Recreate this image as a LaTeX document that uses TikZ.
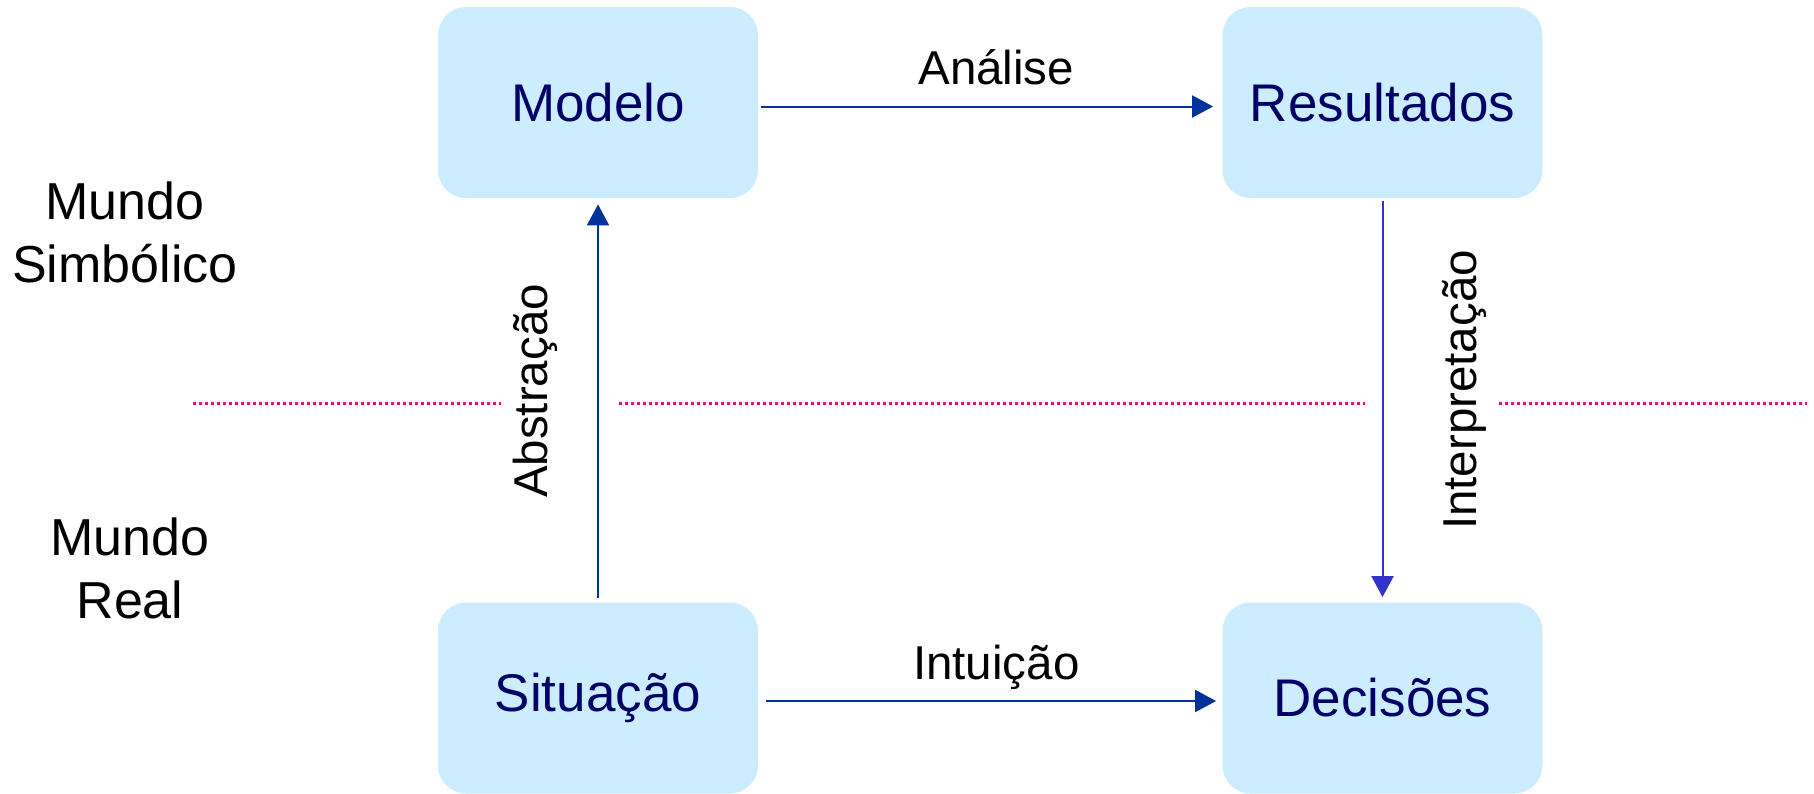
\documentclass[tikz,border=0pt]{standalone}
\usepackage{fontspec}
\setmainfont{Liberation Sans}
\usetikzlibrary{arrows.meta}

\definecolor{boxfill}{HTML}{CCECFF}
\definecolor{boxtext}{HTML}{000066}
\definecolor{arrblue}{HTML}{003399}
\definecolor{arrlight}{HTML}{3333CC}
\definecolor{sepred}{HTML}{FF0066}

\tikzset{
  stage/.style={fill=boxfill, rounded corners=14pt, minimum width=160pt, minimum height=95.5pt,
    inner sep=0pt, text=boxtext, font=\fontsize{26.5}{30}\selectfont},
  arr/.style={draw=arrblue, line width=1pt, -{Triangle[length=10.5pt,width=11pt]}},
  lbl/.style={inner sep=0pt, font=\fontsize{23.75}{28}\selectfont},
  world/.style={inner sep=0pt, align=center, font=\fontsize{26}{31.5}\selectfont},
  sep/.style={draw=sepred, line width=1.5pt, dash pattern=on 1.5pt off 1.5pt}
}

\begin{document}
\begin{tikzpicture}[x=0.5pt, y=-0.5pt]
            \useasboundingbox (0,0) rectangle (1814,793);

            \node[stage] (M) at (598,102.5) {Modelo};
            \node[stage] (R) at (1382.5,102.5) {Resultados};
            \node[stage] (S) at (598,698) {Situação};
            \node[stage] (D) at (1382.5,698) {Decisões};

            \node[world] (W1) at (125,232.5) {Mundo\\Simbólico};
            \node[world] (W2) at (130,568) {Mundo\\Real};

            % linha que separa os dois mundos
            \draw[sep] (193,403) -- (501,403);
            \draw[sep] (619,403) -- (1365,403);
            \draw[sep] (1499,403) -- (1807,403);

            \draw[arr, shorten <=1.5pt, shorten >=4.5pt] ([yshift=-2pt]M.east) -- ([yshift=-2pt]R.west)
                node[lbl, midway, anchor=base, yshift=11pt, xshift=3pt] (LA) {Análise};
            \draw[arr, shorten <=4pt, shorten >=3pt] ([yshift=-1.5pt]S.east) -- ([yshift=-1.5pt]D.west)
                node[lbl, midway, anchor=base, yshift=11pt, xshift=3pt] (LI) {Intuição};
            \draw[arr, shorten <=2pt, shorten >=3pt] (S.north) -- (M.south);
            \draw[arr, draw=arrlight, shorten <=1.5pt, shorten >=2.5pt] (R.south) -- (D.north);

            \node[lbl, rotate=90, anchor=base] (LB) at (547,391) {Abstração};
            \node[lbl, rotate=90, anchor=base] (LP) at (1476,390) {Interpretação};
\end{tikzpicture}
\end{document}
